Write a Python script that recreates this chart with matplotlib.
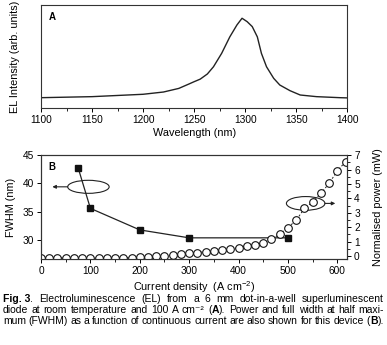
import matplotlib
matplotlib.use("Agg")
import matplotlib.pyplot as plt
from matplotlib.patches import Ellipse
from matplotlib.ticker import MultipleLocator

plt.rcParams['font.family'] = ['Liberation Sans', 'DejaVu Sans']
plt.rcParams['mathtext.fontset'] = 'custom'
plt.rcParams['mathtext.rm'] = 'Liberation Sans'

# panel A: EL spectrum (arbitrary units)
wavelength = [1100, 1150, 1200, 1220, 1235, 1245, 1250, 1256, 1263, 1269, 1277,
              1285, 1292, 1297, 1302, 1307, 1312, 1316, 1321, 1328, 1334, 1344,
              1354, 1370, 1393, 1400]
intensity = [0.100, 0.110, 0.133, 0.155, 0.190, 0.233, 0.255, 0.280, 0.330, 0.400,
             0.530, 0.690, 0.806, 0.871, 0.838, 0.790, 0.690, 0.530, 0.400, 0.288,
             0.223, 0.168, 0.126, 0.110, 0.100, 0.098]

# panel B: FWHM and normalised power vs current density
fwhm_current = [75, 100, 200, 300, 500]
fwhm = [42.8, 35.6, 31.8, 30.4, 30.4]

power_current = [0, 16.7, 33.3, 50, 66.7, 83.3, 100, 116.7, 133.3, 150, 166.7,
                 183.3, 200, 216.7, 233.3, 250, 266.7, 283.3, 300, 316.7, 333.3,
                 350, 366.7, 383.3, 400, 416.7, 433.3, 450, 466.7, 483.3, 500,
                 516.7, 533.3, 550, 566.7, 583.3, 600, 616.7]
power = [-0.12, -0.12, -0.12, -0.12, -0.12, -0.12, -0.12, -0.12, -0.12, -0.12, -0.11,
         -0.1, -0.08, -0.06, -0.03, 0.02, 0.08, 0.13, 0.18, 0.24, 0.31,
         0.38, 0.43, 0.50, 0.58, 0.70, 0.78, 0.92, 1.15, 1.52, 1.98,
         2.47, 3.30, 3.74, 4.34, 5.03, 5.90, 6.54]

caption = [
    [[("Fig. 3", "bold"), (".", "normal")], [("Electroluminescence", "normal")],
     [("(EL)", "normal")], [("from", "normal")], [("a", "normal")], [("6", "normal")],
     [("mm", "normal")], [("dot-in-a-well", "normal")], [("superluminescent", "normal")]],
    [[("diode", "normal")], [("at", "normal")], [("room", "normal")],
     [("temperature", "normal")], [("and", "normal")], [("100", "normal")],
     [("A", "normal")], [("cm⁻²", "normal")],
     [("(", "normal"), ("A", "bold"), (").", "normal")], [("Power", "normal")],
     [("and", "normal")], [("full", "normal")], [("width", "normal")], [("at", "normal")],
     [("half", "normal")], [("maxi-", "normal")]],
    [[("mum", "normal")], [("(FWHM)", "normal")], [("as", "normal")], [("a", "normal")],
     [("function", "normal")], [("of", "normal")], [("continuous", "normal")],
     [("current", "normal")], [("are", "normal")], [("also", "normal")],
     [("shown", "normal")], [("for", "normal")], [("this", "normal")],
     [("device", "normal")], [("(", "normal"), ("B", "bold"), (").", "normal")]],
]


def justify(fig, words, y, x0, x1, size):
    r = fig.canvas.get_renderer()
    W = fig.bbox.width
    pieces = []
    total = 0
    for word in words:
        runs = []
        for txt, wt in word:
            t = fig.text(0, y, txt, fontsize=size, weight=wt, va='baseline')
            w = t.get_window_extent(r).width / W
            runs.append((t, w))
            total += w
        pieces.append(runs)
    gap = (x1 - x0 - total) / (len(pieces) - 1)
    x = x0
    for runs in pieces:
        for t, w in runs:
            t.set_x(x)
            x += w
        x += gap


fig = plt.figure(figsize=(3.87, 3.45), dpi=100)

ax1 = fig.add_axes([0.106, 0.687, 0.791, 0.2986])
ax1.plot(wavelength, intensity, color='#222222', lw=1.0)
ax1.set_xlim(1100, 1400)
ax1.set_ylim(0, 1)
ax1.set_yticks([])
ax1.xaxis.set_major_locator(MultipleLocator(50))
ax1.xaxis.set_minor_locator(MultipleLocator(25))
ax1.tick_params(axis='x', labelsize=7.3, length=3, width=0.7, pad=2)
ax1.tick_params(axis='x', which='minor', length=1.8, width=0.6)
ax1.set_xlabel("Wavelength (nm)", fontsize=7.8, labelpad=2)
ax1.set_ylabel("EL Intensity (arb. units)", fontsize=7.8)
ax1.yaxis.set_label_coords(-0.068, 0.5)
ax1.text(0.025, 0.93, "A", transform=ax1.transAxes, fontsize=7, weight='bold',
         va='top')

ax2 = fig.add_axes([0.106, 0.249, 0.791, 0.3015])
ax2.plot(fwhm_current, fwhm, color='#222222', lw=0.9, marker='s', ms=4.5,
         mfc='#111111', mec='#111111', zorder=3)
ax2.set_xlim(0, 620)
ax2.set_ylim(26.65, 45)
ax2.xaxis.set_major_locator(MultipleLocator(100))
ax2.xaxis.set_minor_locator(MultipleLocator(50))
ax2.yaxis.set_major_locator(MultipleLocator(5))
ax2.tick_params(labelsize=7.3, length=3, width=0.7, pad=2)
ax2.tick_params(which='minor', length=1.8, width=0.6)
ax2.set_xlabel("Current density  (A cm$^{-2}$)", fontsize=7.8, labelpad=2)
ax2.set_ylabel("FWHM (nm)", fontsize=7.8)
ax2.yaxis.set_label_coords(-0.083, 0.5)
ax2.text(0.025, 0.93, "B", transform=ax2.transAxes, fontsize=7, weight='bold',
         va='top')
ax2.add_patch(Ellipse((96, 39.4), 84, 2.3, fill=False, lw=0.8, color='#222222'))
ax2.annotate("", xy=(23, 39.4), xytext=(54, 39.4),
             arrowprops=dict(arrowstyle='-|>', lw=0.8, color='#222222',
                             mutation_scale=5, shrinkA=0, shrinkB=0))

ax3 = ax2.twinx()
ax3.plot(power_current, power, color='#222222', lw=0.7, ls=(0, (2, 2)),
         marker='o', ms=5.5, mfc='white', mec='#111111', mew=0.8)
ax3.set_ylim(-0.21, 7)
ax3.yaxis.set_major_locator(MultipleLocator(1))
ax3.yaxis.set_minor_locator(MultipleLocator(0.5))
ax3.tick_params(labelsize=7.3, length=3, width=0.7, pad=2)
ax3.tick_params(which='minor', length=1.8, width=0.6)
ax3.set_ylabel("Normalised power (mW)", fontsize=7.8)
ax3.yaxis.set_label_coords(1.085, 0.5)
ax3.add_patch(Ellipse((536, 3.65), 78, 0.95, fill=False, lw=0.8, color='#222222'))
ax3.annotate("", xy=(596, 3.65), xytext=(575, 3.65),
             arrowprops=dict(arrowstyle='-|>', lw=0.8, color='#222222',
                             mutation_scale=5, shrinkA=0, shrinkB=0))

for ax in (ax1, ax2, ax3):
    for s in ax.spines.values():
        s.set_linewidth(0.8)
        s.set_color('#333333')

ys = [1 - 302 / 345, 1 - 313 / 345, 1 - 324 / 345]
for words, y in zip(caption, ys):
    justify(fig, words, y, 3 / 387, 384 / 387, 7.5)

fig.savefig("out.png", dpi=100)
